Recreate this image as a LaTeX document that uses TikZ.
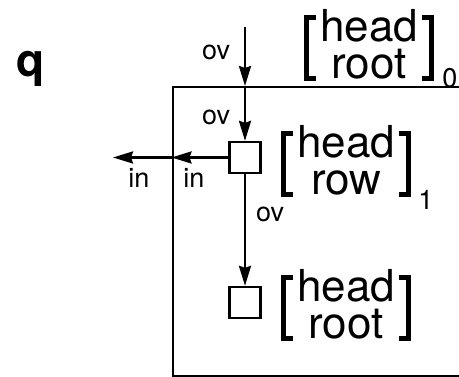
\documentclass[tikz,border=0pt]{standalone}
\usepackage{fontspec}
\setmainfont{TeX Gyre Heros}
\usetikzlibrary{arrows.meta,positioning}

% brackets round a two-line feature node
\newcommand{\avmbrk}[1]{%
  \draw[brk] ([xshift=-4.5pt,yshift=-9pt]#1.north west) -- ++(-9.5pt,0)
     |- ([xshift=-4.5pt,yshift=1pt]#1.south west);
  \draw[brk] ([xshift=3.5pt,yshift=-9pt]#1.north east) -- ++(9.5pt,0)
     |- ([xshift=3.5pt,yshift=1pt]#1.south east);}

\begin{document}
\begin{tikzpicture}[x=1pt, y=1pt,
    sq/.style={draw, line width=2.3pt, minimum size=31pt, inner sep=0pt},
    arr/.style={-{Stealth[length=20pt,width=12pt,inset=2pt]}, line width=2.5pt},
    lbl/.style={font=\fontsize{27}{30}\selectfont, inner sep=0pt, anchor=base},
    avm/.style={font=\fontsize{44}{37}\selectfont, align=center, inner sep=0pt,
                anchor=north west},
    brk/.style={line width=5pt},
    sub/.style={font=\fontsize{27}{30}\selectfont, inner sep=0pt, anchor=base west}
  ]
  \useasboundingbox (0,0) rectangle (459,377);

  \node[font=\fontsize{46}{50}\selectfont\bfseries, inner sep=0pt, anchor=base west]
    (q) at (16,300) {q};

  \node[draw, line width=2.5pt, inner sep=0pt, minimum width=300pt,
        minimum height=289pt, anchor=north west] (frame) at (171.5,291) {};

  \coordinate (src) at (245,350);
  \node[sq] (sq1) at (245,219.5) {};
  \node[sq] (sq2) at (245,74.5) {};
  \coordinate (out) at (113,219.5);

  \draw[arr] (src) -- (src |- frame.north);
  \draw[arr] (src |- frame.north) -- (sq1);
  \draw[arr] (sq1) -- (sq1 -| frame.west);
  \draw[arr] (sq1 -| frame.west) -- (out);
  \draw[arr] (sq1) -- (sq2);

  \node[lbl] (ov1) at (216,317) {ov};
  \node[lbl] (ov2) at (216,252) {ov};
  \node[lbl] (ov3) at (270,155) {ov};
  \node[lbl] (in1) at (139,189) {in};
  \node[lbl] (in2) at (194,189) {in};

  % feature structures
  \node[avm] (top) at (320,368) {head\\root};
  \avmbrk{top}
  \node[sub] (sub0) at ([xshift=24pt,yshift=-8pt]top.south east) {0};

  \node[avm] (mid) at (297,252) {head\\row};
  \avmbrk{mid}
  \node[sub] (sub1) at ([xshift=23pt,yshift=-14pt]mid.south east) {1};

  \node[avm] (bot) at (297,108) {head\\root};
  \avmbrk{bot}
\end{tikzpicture}
\end{document}
